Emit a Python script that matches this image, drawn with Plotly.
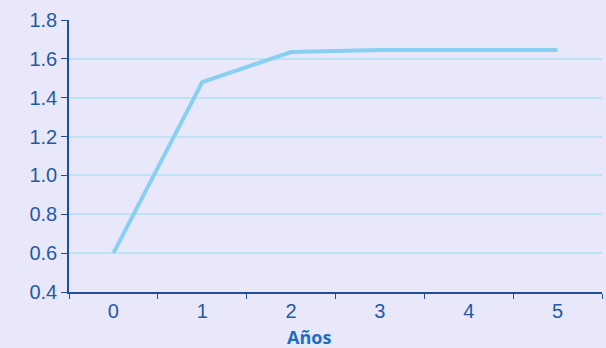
import plotly.graph_objects as go

years = ["0", "1", "2", "3", "4", "5"]
values = [0.60, 1.48, 1.635, 1.645, 1.645, 1.645]
y_ticks = [0.4, 0.6, 0.8, 1.0, 1.2, 1.4, 1.6, 1.8]
y_tick_labels = ["0.4", "0.6", "0.8", "1.0", "1.2", "1.4", "1.6", "1.8"]
x_title = "Años"

bg = "#E8E8FA"
axis_color = "#1F4F9C"

fig = go.Figure()
fig.add_trace(go.Scatter(
    x=years, y=values, mode="lines",
    line=dict(color="#88CFF2", width=4),
    showlegend=False, hoverinfo="skip",
))

L, T, R, B = 69, 20, 4, 56
W, H = 606, 348
plot_h = H - T - B
plot_w = W - L - R

fig.update_layout(
    width=W, height=H,
    paper_bgcolor=bg, plot_bgcolor=bg,
    margin=dict(l=L, r=R, t=T, b=B, autoexpand=False),
    font=dict(family="Liberation Sans, Arial", size=20, color="#1F5AA6"),
)

fig.update_xaxes(
    type="category", range=[-0.5, 5.5],
    tickson="boundaries", ticks="outside", ticklen=5, tickcolor=axis_color,
    showline=True, linecolor=axis_color, linewidth=1.5,
    showgrid=False, zeroline=False,
    tickfont=dict(size=20, color="#1F5AA6"),
)

fig.update_yaxes(
    range=[0.4, 1.8], tickvals=y_ticks, ticktext=y_tick_labels,
    ticks="outside", ticklen=6, tickcolor=axis_color,
    showline=True, linecolor=axis_color, linewidth=1.5,
    showgrid=True, gridcolor="#BDE3F6", gridwidth=1.5, zeroline=False,
    tickfont=dict(size=20, color="#1F5AA6"),
)

fig.add_annotation(
    text="<b>" + x_title + "</b>", xref="paper", yref="paper",
    x=(309 - L) / plot_w, y=-(337 - (T + plot_h)) / plot_h,
    xanchor="center", yanchor="middle", showarrow=False,
    font=dict(family="Open Sans, Lato", size=18, color="#1F6DC0"),
)

fig.write_html(
    "out.html",
    config={"displayModeBar": False},
    post_script="document.body.style.margin='0';document.body.style.background='" + bg + "';",
)
